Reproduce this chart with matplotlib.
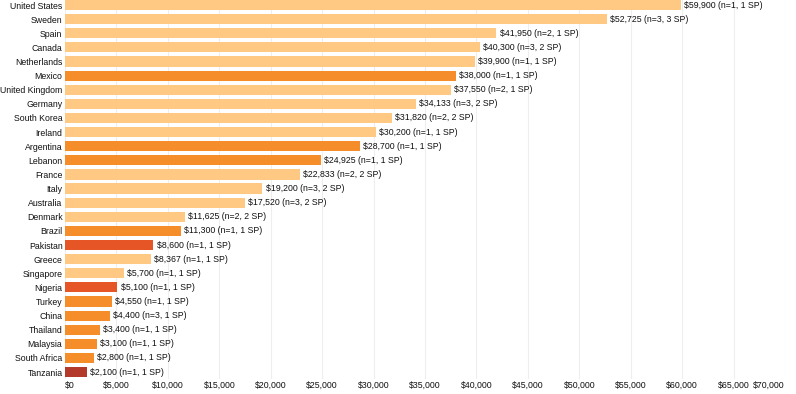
import matplotlib
matplotlib.use("Agg")
import matplotlib.pyplot as plt
from matplotlib.ticker import FuncFormatter

plt.rcParams['font.family'] = ['Liberation Sans', 'DejaVu Sans']

# data
countries = ["United States", "Sweden", "Spain", "Canada", "Netherlands", "Mexico",
             "United Kingdom", "Germany", "South Korea", "Ireland", "Argentina", "Lebanon",
             "France", "Italy", "Australia", "Denmark", "Brazil", "Pakistan", "Greece",
             "Singapore", "Nigeria", "Turkey", "China", "Thailand", "Malaysia",
             "South Africa", "Tanzania"]
salaries = [59900, 52725, 41950, 40300, 39900, 38000, 37550, 34133, 31820, 30200,
            28700, 24925, 22833, 19200, 17520, 11625, 11300, 8600, 8367, 5700,
            5100, 4550, 4400, 3400, 3100, 2800, 2100]
n_resp = [1, 3, 2, 3, 1, 1, 2, 3, 2, 1, 1, 1, 2, 3, 3, 2, 1, 1, 1, 1, 1, 1, 3, 1, 1, 1, 1]
n_sp = [1, 3, 1, 2, 1, 1, 1, 2, 2, 1, 1, 1, 2, 2, 2, 2, 1, 1, 1, 1, 1, 1, 1, 1, 1, 1, 1]
# colour group per country: 0 light, 1 orange, 2 red-orange, 3 dark red
groups = [0, 0, 0, 0, 0, 1, 0, 0, 0, 0, 1, 1, 0, 0, 0, 0, 1, 2, 0, 0,
          2, 1, 1, 1, 1, 1, 3]
palette = ["#FFC983", "#F68D2B", "#E55526", "#B33A2B"]

FS = 6.3
TXT = "#111111"
fig = plt.figure(figsize=(7.96, 3.94), dpi=100)
ax = fig.add_axes([65 / 796, 0.0377, 720 / 796, 0.9675])

ypos = list(range(len(countries)))
ax.barh(ypos, salaries, height=0.72, color=[palette[g] for g in groups], zorder=2)

for y, v, n, sp in zip(ypos, salaries, n_resp, n_sp):
    ax.annotate(f"${v:,} (n={n}, {sp} SP)", xy=(v, y), xytext=(2.2, 0),
                textcoords="offset points", va="center", ha="left",
                fontsize=FS, color=TXT)

ax.set_xlim(0, 70000)
ax.set_ylim(len(countries) - 0.5, -0.5)
ax.set_xticks(range(0, 70001, 5000))
ax.xaxis.set_major_formatter(FuncFormatter(lambda x, p: f"${int(x):,}"))
ax.set_yticks(ypos)
ax.set_yticklabels(countries)
ax.tick_params(axis="both", length=0, labelsize=FS, colors=TXT)
ax.tick_params(axis="y", pad=1.8)
ax.tick_params(axis="x", pad=1.5)
ax.grid(axis="x", color="#eeeeee", linewidth=0.8, zorder=0)
for s in ax.spines.values():
    s.set_visible(False)

xlabels = ax.get_xticklabels()
xlabels[0].set_ha("left")
xlabels[-1].set_ha("right")

fig.savefig("out.png", dpi=100)
